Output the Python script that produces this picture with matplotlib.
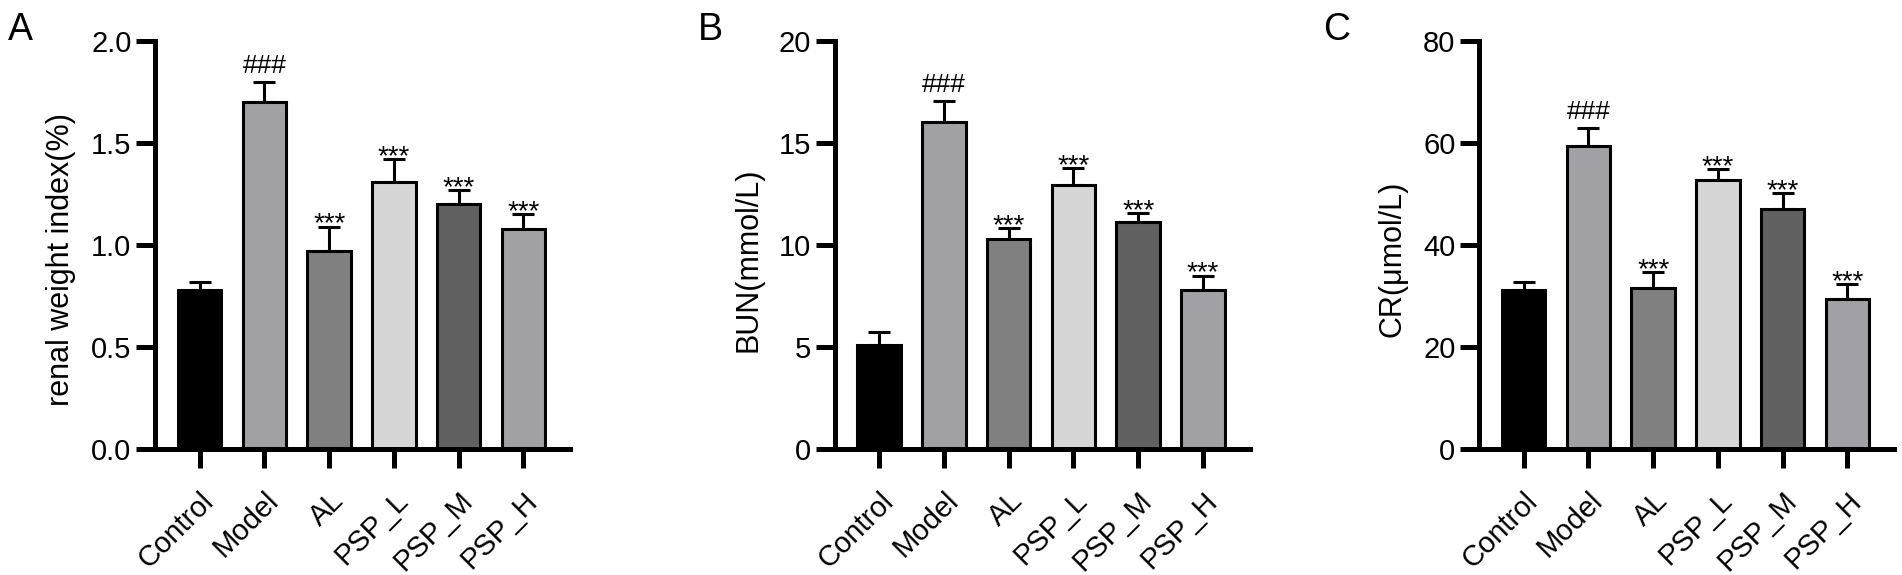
import matplotlib
matplotlib.use("Agg")
import matplotlib.pyplot as plt
import numpy as np

plt.rcParams['font.family'] = ['Liberation Sans', 'DejaVu Sans']

groups = ["Control", "Model", "AL", "PSP_L", "PSP_M", "PSP_H"]
bar_colors = ["#000000", "#a1a1a5", "#808080", "#d6d6d6", "#616161", "#a1a1a5"]

# panel A: renal weight index (%)
renal_mean = [0.78, 1.70, 0.97, 1.31, 1.20, 1.08]
renal_err = [0.04, 0.10, 0.12, 0.11, 0.07, 0.07]
# panel B: BUN (mmol/L)
bun_mean = [5.08, 16.04, 10.27, 12.92, 11.15, 7.80]
bun_err = [0.67, 1.01, 0.56, 0.85, 0.42, 0.70]
# panel C: CR (umol/L)
cr_mean = [31.1, 59.4, 31.6, 52.7, 47.1, 29.4]
cr_err = [1.7, 3.5, 3.1, 2.2, 3.1, 3.0]

# significance marks
marks = ["", "###", "***", "***", "***", "***"]

panels = [
    ("A", "renal weight index(%)", renal_mean, renal_err, 2.0, [0.0, 0.5, 1.0, 1.5, 2.0], ["0.0", "0.5", "1.0", "1.5", "2.0"]),
    ("B", "BUN(mmol/L)", bun_mean, bun_err, 20, [0, 5, 10, 15, 20], ["0", "5", "10", "15", "20"]),
    ("C", "CR(μmol/L)", cr_mean, cr_err, 80, [0, 20, 40, 60, 80], ["0", "20", "40", "60", "80"]),
]

W, H = 1902, 575
fig = plt.figure(figsize=(W / 100, H / 100), dpi=100)

spine_px = [155, 834.5, 1479]
letter_px = [8, 698, 1323]
ax_w = 415 / W
ax_b = (H - 449) / H
ax_h = 408 / H

for k, (letter, ylabel, mean, err, ymax, yt, ytl) in enumerate(panels):
    ax = fig.add_axes([spine_px[k] / W, ax_b, ax_w, ax_h])
    x = np.arange(len(groups))
    ax.bar(x, mean, width=0.67, color=bar_colors, edgecolor="black", linewidth=2.2, zorder=2)
    ax.errorbar(x, mean, yerr=[np.zeros(len(err)), err], fmt="none", ecolor="black",
                elinewidth=2.2, capsize=7.8, capthick=2.2, zorder=1)
    for i, m in enumerate(marks):
        if not m:
            continue
        top = mean[i] + err[i]
        off = 6.5 if m == "###" else -3.6
        fs = 19 if m == "###" else 20
        ax.annotate(m, xy=(i, top), xytext=(0, off), textcoords="offset points",
                    ha="center", va="baseline", fontsize=fs)

    ax.set_xlim(-0.69, 5.72)
    ax.set_ylim(0, ymax)
    ax.set_yticks(yt)
    ax.set_yticklabels(ytl, fontsize=21)
    ax.set_xticks(x)
    ax.set_xticklabels(groups, fontsize=21, rotation=45, ha="right", rotation_mode="anchor")
    for lab in ax.get_xticklabels():
        lab.set_va("top")
    ax.tick_params(axis="both", length=14, width=3.6, direction="out")
    ax.tick_params(axis="y", pad=3)
    ax.tick_params(axis="x", pad=13)
    for s in ["top", "right"]:
        ax.spines[s].set_visible(False)
    for s in ["left", "bottom"]:
        ax.spines[s].set_linewidth(3.6)
        ax.spines[s].set_capstyle("projecting")
    ax.set_ylabel(ylabel, fontsize=22, labelpad=11, y=0.465)
    fig.text(letter_px[k] / W, 1 - 40 / H, letter, fontsize=27, ha="left", va="baseline")

fig.savefig("out.png", dpi=100)
